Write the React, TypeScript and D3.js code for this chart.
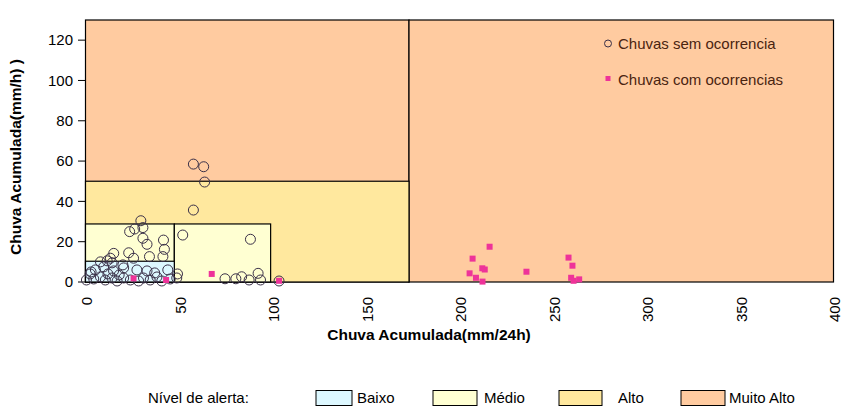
import React from 'react';
import * as d3 from 'd3';

// ---- data ----
const semX = [57.7, 63.2, 63.7, 57.7, 52.0, 88.2, 49.2, 74.6, 80.4, 83.5, 87.5, 92.3, 93.6, 103.5,
  29.6, 30.7, 23.6, 26.3, 30.7, 32.9, 41.7, 42.2, 23.1, 41.4, 34.2, 25.7, 15.1, 13.3, 48.8,
  0.5, 4.4, 8, 10.6, 14.2, 16.9, 20.4, 24, 28.4, 31, 34.6, 38.2, 40.8, 45.3,
  5.3, 9.7, 15, 20.4, 27.5, 32.9, 2.5, 12, 18, 37, 44, 8, 11.6, 14.2, 20, 3];
const semY = [58.5, 57.2, 49.6, 35.7, 23.3, 21.2, 4.0, 1.6, 1.6, 2.6, 1.0, 4.3, 1.0, 0.5,
  30.4, 27.0, 25.0, 26.3, 21.7, 18.7, 20.8, 16.2, 14.5, 12.6, 12.6, 11.8, 14.2, 11.8, 2.0,
  1, 1.5, 2.5, 1, 2, 0.5, 2, 1, 0.5, 2, 1, 2.5, 0.5, 1.5,
  6, 7.5, 5.5, 7, 6, 5.5, 4, 4, 3.5, 4.5, 6, 10, 10.5, 9.5, 8.5, 5];
const comX = [25.7, 43.1, 67.5, 103.5, 216.1, 207.0, 212.2, 213.5, 205.4, 208.8, 212.3, 235.8, 258.3, 260.4, 259.7, 261, 264];
const comY = [1.8, 1.0, 4.0, 0.6, 17.5, 11.6, 6.8, 6.2, 4.3, 2.1, 0.2, 5.1, 12.1, 8.1, 2.1, 0.6, 1.3];

const yTicks = [0, 20, 40, 60, 80, 100, 120];
const xTicks = [0, 50, 100, 150, 200, 250, 300, 350, 400];

const zoneNames = ['Baixo', 'Médio', 'Alto', 'Muito Alto'];
const zoneColors = ['#DDF8FF', '#FFFFD2', '#FFE89E', '#FFCBA0'];
// zone rectangles (data units): x0, x1, top y, zone index
const rectX0 = [0, 173, 0, 0, 47.5, 0];
const rectX1 = [173, 400, 173, 47.5, 99, 47.5];
const rectY1 = [130, 130, 50, 28.8, 28.8, 10.3];
const rectZone = [3, 3, 2, 1, 1, 0];

const seriesNames = ['Chuvas sem ocorrencia', 'Chuvas com ocorrencias'];

const FONT = '"Liberation Sans", Arial, sans-serif';

export default function App() {
  const x = d3.scaleLinear().domain([0, 400]).range([85.5, 833.5]);
  const y = d3.scaleLinear().domain([0, 130]).range([282, 20]);

  const circleColor = '#3a3048';
  const sqColor = '#EE3399';

  const legendBoxX = [316, 433, 559, 681];
  const legendBoxW = [36, 44, 43, 44];
  const legendTextX = [357, 484, 618, 729];

  return (
    <svg width={852} height={415} style={{ position: 'absolute', left: 0, top: 0, background: '#fff' }}
      fontFamily={FONT}>
      <rect x={0} y={0} width={852} height={415} fill="#fff" />
      {rectX0.map((x0, i) => (
        <rect key={'z' + i} x={x(x0)} y={y(rectY1[i])} width={x(rectX1[i]) - x(x0)}
          height={y(0) - y(rectY1[i])} fill={zoneColors[rectZone[i]]} stroke="#000" strokeWidth={1.2} />
      ))}
      {/* y axis ticks */}
      {yTicks.map(t => (
        <g key={'yt' + t}>
          <line x1={78} x2={85.5} y1={y(t)} y2={y(t)} stroke="#000" strokeWidth={1} />
          <text x={73} y={y(t) + 5.3} textAnchor="end" fontSize={15} fill="#000">{t}</text>
        </g>
      ))}
      {/* x tick labels */}
      {xTicks.map(t => (
        <text key={'xt' + t} transform={`translate(${x(t) + 6.5},297) rotate(-90)`} textAnchor="end"
          fontSize={15} fill="#000">{t}</text>
      ))}
      {/* points */}
      {semX.map((v, i) => (
        <circle key={'c' + i} cx={x(v)} cy={y(semY[i])} r={5} fill="none" stroke={circleColor} strokeWidth={1} />
      ))}
      {comX.map((v, i) => (
        <rect key={'s' + i} x={x(v) - 3} y={y(comY[i]) - 3} width={6} height={6} fill={sqColor} />
      ))}
      {/* axis titles */}
      <text x={429} y={340} textAnchor="middle" fontWeight="bold" fontSize={15.5} fill="#000">Chuva Acumulada(mm/24h)</text>
      <text transform="translate(21,157) rotate(-90)" textAnchor="middle" fontWeight="bold" fontSize={15.5} fill="#000">Chuva Acumulada(mm/h) )</text>
      {/* series legend */}
      <circle cx={608} cy={43.5} r={3.5} fill="none" stroke={circleColor} strokeWidth={1} />
      <text x={618} y={49} fontSize={15} fill="#4a2410">{seriesNames[0]}</text>
      <rect x={605.5} y={76} width={5} height={5} fill={sqColor} />
      <text x={618} y={84.5} fontSize={15} fill="#4a2410">{seriesNames[1]}</text>
      {/* zone legend */}
      <text x={148} y={403} fontSize={15} fill="#000">Nível de alerta:</text>
      {zoneNames.map((n, i) => (
        <g key={'lg' + i}>
          <rect x={legendBoxX[i]} y={390.5} width={legendBoxW[i]} height={15} fill={zoneColors[i]} stroke="#000" strokeWidth={1} />
          <text x={legendTextX[i]} y={403} fontSize={15} fill="#000">{n}</text>
        </g>
      ))}
    </svg>
  );
}
